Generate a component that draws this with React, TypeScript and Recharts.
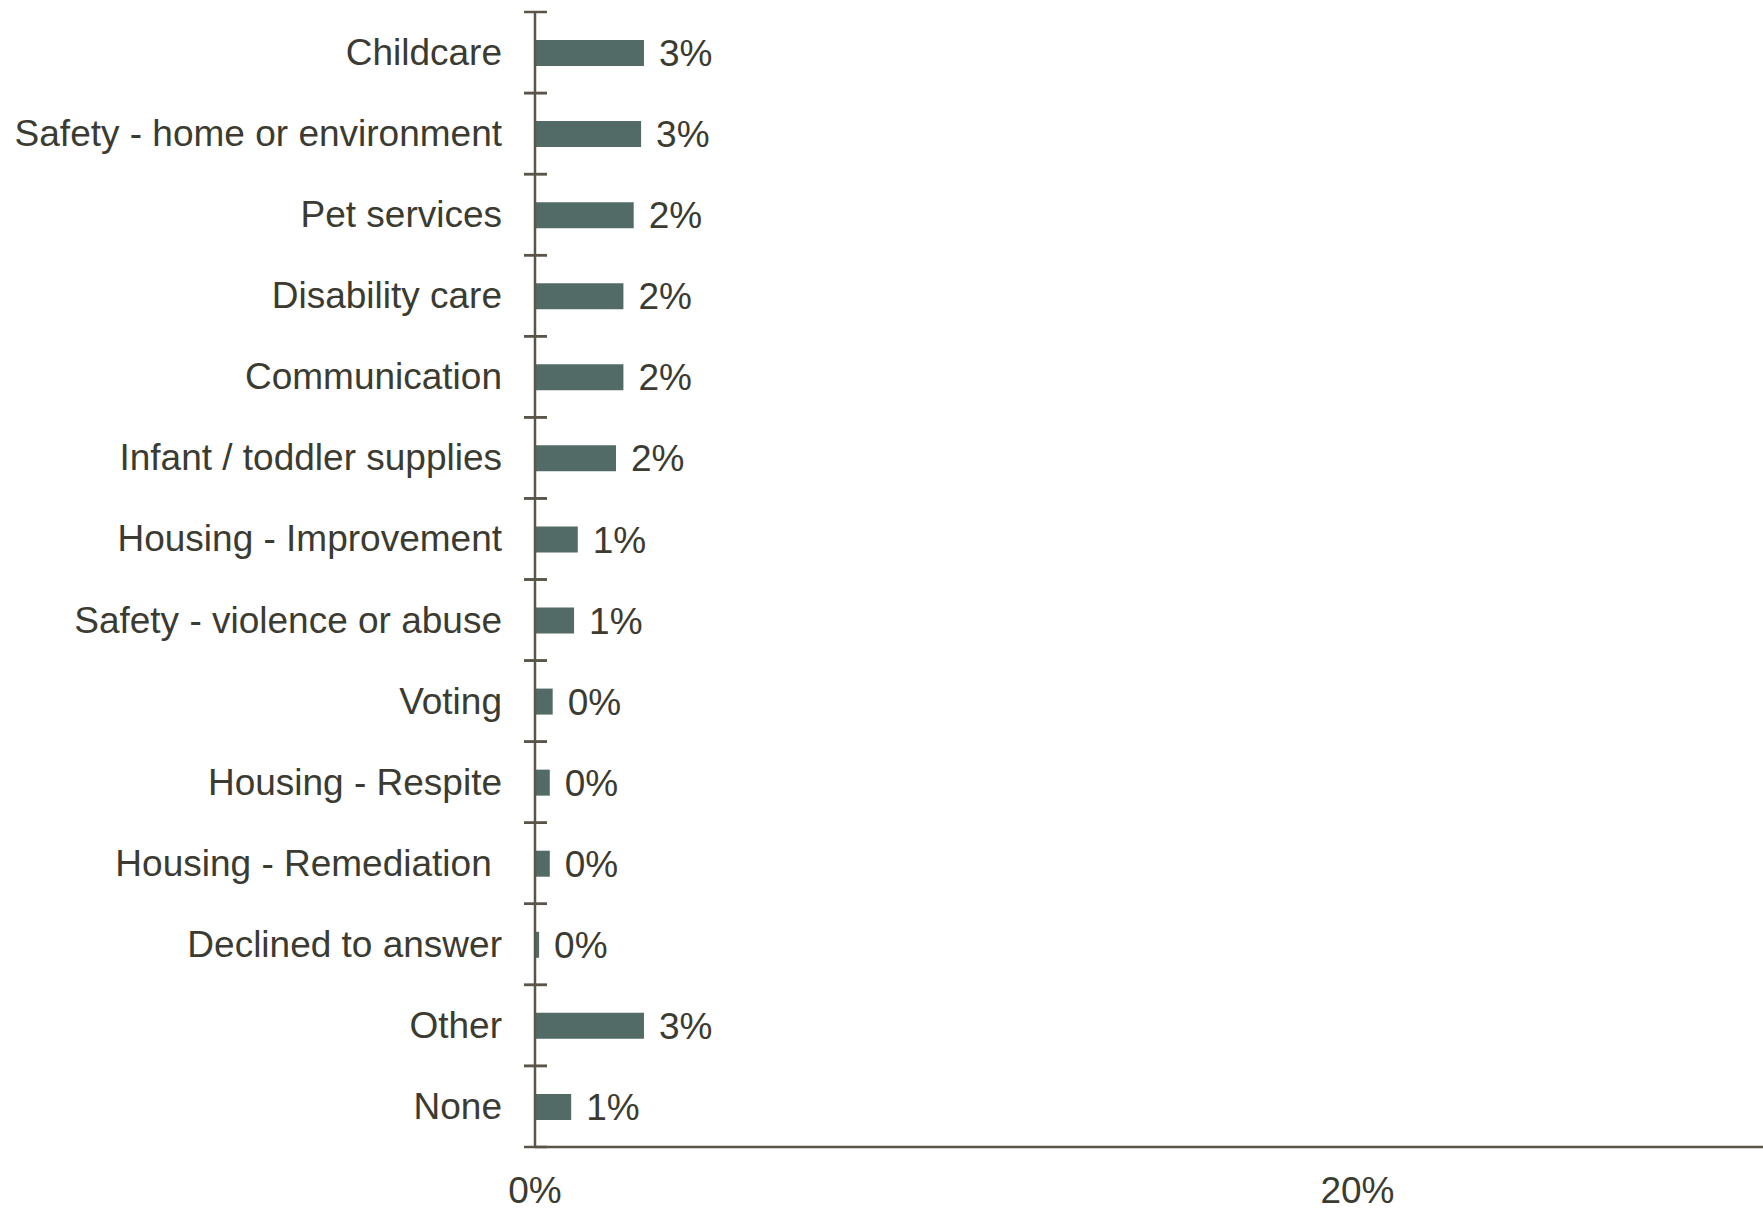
import { Bar, BarChart, LabelList, XAxis, YAxis } from 'recharts';

const categories = [
  'Childcare',
  'Safety - home or environment',
  'Pet services',
  'Disability care',
  'Communication',
  'Infant / toddler supplies',
  'Housing - Improvement',
  'Safety - violence or abuse',
  'Voting',
  'Housing - Respite',
  'Housing - Remediation ',
  'Declined to answer',
  'Other',
  'None',
];

// share of respondents, in percent
const shares = [2.65, 2.58, 2.4, 2.15, 2.15, 1.97, 1.04, 0.95, 0.43, 0.36, 0.36, 0.1, 2.65, 0.88];

const xTicks = [0, 20];

const data = categories.map((name, i) => ({ name, share: shares[i] }));

const CHART_W = 2180;
const CHART_H = 1209;
const TOP = 12;
const Y_AXIS_W = 535;
const X_AXIS_H = 62;
const LABEL_GAP = 33;
const TICK_HALF = 11;

const TEXT = '#3b3b31';
const AXIS = '#5a5548';
const BAR = '#536b66';
const FONT = '"Liberation Sans", Arial, sans-serif';

const bandSize = (CHART_H - TOP - X_AXIS_H) / categories.length;

function CategoryTick(props: any) {
  const { x, y, payload } = props;
  const axisX = x + LABEL_GAP;
  const top = y - bandSize / 2;
  const bottom = y + bandSize / 2;
  return (
    <g>
      <text
        x={x}
        y={y}
        textAnchor="end"
        dominantBaseline="central"
        fill={TEXT}
        fontSize={37}
        fontFamily={FONT}
        style={{ whiteSpace: 'pre' }}
      >
        {payload.value}
      </text>
      <line x1={axisX - TICK_HALF} x2={axisX + TICK_HALF + 1} y1={top} y2={top} stroke={AXIS} strokeWidth={2.5} />
      <line x1={axisX - TICK_HALF} x2={axisX + TICK_HALF + 1} y1={bottom} y2={bottom} stroke={AXIS} strokeWidth={2.5} />
    </g>
  );
}

export default function App() {
  return (
    <div
      style={{
        position: 'absolute',
        left: 0,
        top: 0,
        width: 1763,
        height: 1209,
        overflow: 'hidden',
        background: '#fff',
      }}
    >
      <BarChart
        width={CHART_W}
        height={CHART_H}
        data={data}
        layout="vertical"
        margin={{ top: TOP, right: 0, bottom: 0, left: 0 }}
      >
        <XAxis
          type="number"
          domain={[0, 40]}
          ticks={xTicks}
          tickFormatter={(v: number) => `${v}%`}
          height={X_AXIS_H}
          tickLine={false}
          tickSize={0}
          tickMargin={30}
          axisLine={{ stroke: AXIS, strokeWidth: 2.5 }}
          tick={{ fill: TEXT, fontSize: 37, fontFamily: FONT }}
        />
        <YAxis
          type="category"
          dataKey="name"
          width={Y_AXIS_W}
          tickLine={false}
          tickSize={0}
          tickMargin={LABEL_GAP}
          interval={0}
          axisLine={{ stroke: AXIS, strokeWidth: 2.5 }}
          tick={<CategoryTick />}
        />
        <Bar dataKey="share" fill={BAR} barSize={26} isAnimationActive={false}>
          <LabelList
            dataKey="share"
            position="right"
            offset={15}
            formatter={(v: any) => `${Math.round(Number(v))}%`}
            fill={TEXT}
            fontSize={37}
            fontFamily={FONT}
          />
        </Bar>
      </BarChart>
    </div>
  );
}
